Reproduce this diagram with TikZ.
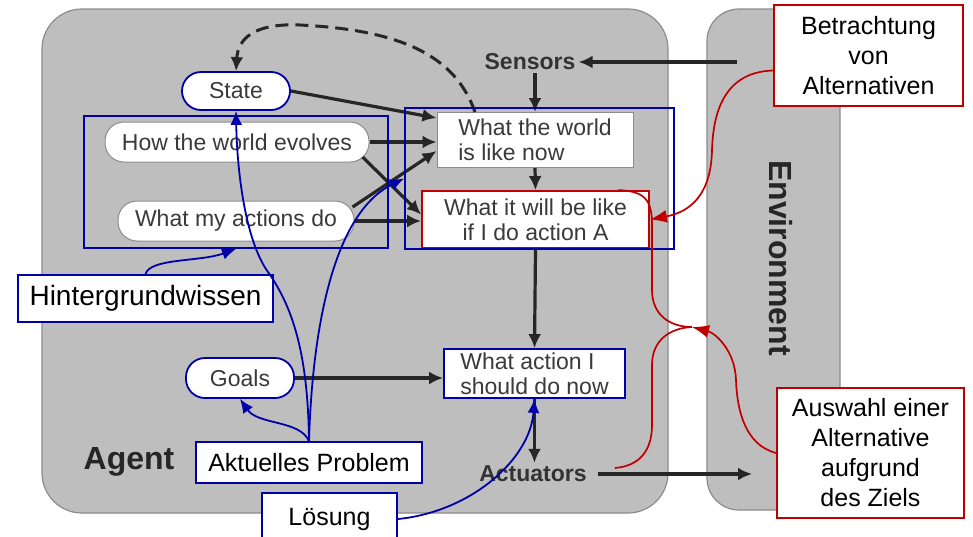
\documentclass[tikz,border=0pt]{standalone}
\usepackage{fontspec}
\setmainfont{Liberation Sans}
\usetikzlibrary{arrows.meta,calc}
\definecolor{panel}{HTML}{BEBEBE}
\definecolor{panelline}{HTML}{8C8C8C}
\definecolor{ink}{HTML}{3A3A3A}
\definecolor{noteblue}{HTML}{0000AA}
\definecolor{notered}{HTML}{C00000}

\begin{document}
\begin{tikzpicture}[x=1pt,y=-1pt,
  panelbox/.style={fill=panel,draw=panelline,line width=1.2pt},
  pill/.style={draw=panelline,fill=white,rounded corners=19pt,line width=1pt,
    font=\fontsize{23}{25}\selectfont,text=ink,inner sep=0pt},
  statebox/.style={draw=panelline,fill=white,line width=1pt,
    font=\fontsize{23}{25}\selectfont,text=ink,inner sep=0pt},
  termlabel/.style={font=\fontsize{23}{26}\selectfont\bfseries,text=black!80,inner sep=3pt},
  flow/.style={draw=black!85,line width=3.2pt,-{Latex[length=14pt,width=13pt]}},
  feedback/.style={draw=black!85,line width=3pt,dash pattern=on 13pt off 7pt,
    -{Latex[length=14pt,width=13pt]}},
  bluenote/.style={draw=noteblue,fill=white,line width=1.8pt,
    font=\fontsize{25}{30}\selectfont,align=center,inner sep=0pt},
  rednote/.style={draw=notered,fill=white,line width=1.8pt,
    font=\fontsize{25}{30}\selectfont,align=center,inner sep=0pt},
  bluelink/.style={draw=noteblue,line width=1.8pt,-{Latex[length=14pt,width=12pt]}},
  redlink/.style={draw=notered,line width=1.7pt},
  redtip/.style={-{Latex[length=17pt,width=13pt]}},
  bluegroup/.style={draw=noteblue,line width=1.8pt,inner sep=0pt},
]
\useasboundingbox (0,0) rectangle (973,536);
\clip (0,0) rectangle (973,536);

% agent and environment panels
\draw[panelbox,rounded corners=40pt] (42,9) rectangle (668,513);
\draw[panelbox,rounded corners=32pt] (707,9) rectangle (840,510);

\node[termlabel] (sensors) at (530,62) {Sensors};
\node[termlabel] (actuators) at (533,474) {Actuators};
\node[termlabel,font=\fontsize{32}{36}\selectfont\bfseries,text=black!85] (agentlbl) at (129,462) {Agent};
\node[termlabel,font=\fontsize{32}{36}\selectfont\bfseries,text=black!85,rotate=-90] (envlbl) at (781,258) {Environment};

% internal model of the agent
\node[pill,draw=noteblue,line width=1.8pt,minimum width=108pt,minimum height=38pt] (state) at (236,91) {State};
\node[pill,minimum width=264pt,minimum height=40pt] (evolve) at (237,142) {How the world evolves};
\node[pill,minimum width=236pt,minimum height=40pt] (effects) at (236,221) {What my actions do};
\node[pill,draw=noteblue,line width=1.8pt,minimum width=108pt,minimum height=40pt] (goals) at (240,378) {Goals};
\node[statebox,align=left,minimum width=196pt,minimum height=55pt] (now) at (535,140) {What the world\\is like now};
\node[statebox,draw=notered,line width=1.8pt,align=center,minimum width=227pt,minimum height=57pt] (future) at (535.5,219.5) {What it will be like\\if I do action A};
\node[statebox,draw=noteblue,line width=1.8pt,align=left,minimum width=181pt,minimum height=49pt] (choice) at (534.5,373.5) {What action I\\should do now};

% percept / action flow
\coordinate (envout) at (737,62);
\coordinate (envin) at (752,474);
\draw[flow] (envout) -- (sensors.east);
\draw[flow] (now.north |- sensors.south) -- (now.north);
\draw[flow] (now.south) -- (future.north);
\draw[flow] (future.south) -- (choice.north);
\draw[flow] (choice.south) -- (choice.south |- actuators.north);
\draw[flow,shorten <=8pt] (actuators.east) -- (envin);
\draw[flow] (state.east) -- ([yshift=22pt]now.west);
\draw[flow] (evolve.east) -- (evolve.east -| now.west);
\draw[flow] ([xshift=-7pt,yshift=-15pt]evolve.east) -- ([yshift=5pt]future.west);
\draw[flow] ([xshift=-2pt,yshift=14pt]effects.east) -- ([yshift=-11pt]now.west);
\draw[flow] (effects.east) -- (effects.east -| future.west);
\draw[flow] (goals.east) -- (goals.east -| choice.west);
\draw[feedback] ([xshift=-60pt]now.north) .. controls (455,55) and (400,30) .. (300,25)
  .. controls (255,23) and (238,38) .. (state.north);

% blue annotations
\node[bluegroup,minimum width=304pt,minimum height=132pt] (knowledge) at (236,182) {};
\node[bluegroup,minimum width=269pt,minimum height=141pt] (outlook) at (539.5,178.5) {};
\node[bluenote,font=\fontsize{28}{32}\selectfont,minimum width=255pt,minimum height=47pt] (hint) at (145.5,298.5) {Hintergrundwissen};
\node[bluenote,minimum width=226pt,minimum height=41pt] (problem) at (309,462.5) {Aktuelles Problem};
\node[bluenote,minimum width=135pt,minimum height=52pt] (solution) at (329.5,519) {Lösung};

\draw[bluelink] (hint.north) .. controls (150,258) and (200,262) .. (knowledge.south);
\draw[bluelink] (problem.north) .. controls (300,420) and (258,425) .. (goals.south);
\draw[bluelink] (problem.north) .. controls (308,360) and (295,310) .. (268,272)
  .. controls (245,240) and (237,170) .. (state.south);
\draw[bluelink] (problem.north) .. controls (312,340) and (330,215) .. (outlook.west);
\draw[bluelink] (solution.east) .. controls (470,512) and (530,460) .. (choice.south);

% red annotations
\node[rednote,minimum width=189pt,minimum height=101pt] (consider) at (868.5,55.5) {Betrachtung\\von\\Alternativen};
\node[rednote,minimum width=187pt,minimum height=130pt] (select) at (870.5,453) {Auswahl einer\\Alternative\\aufgrund\\des Ziels};
\coordinate (merge) at (692,327);

\draw[redlink,redtip] ([yshift=-15pt]consider.west) .. controls (720,72) and (713,120) .. (712,150)
  .. controls (711,195) and (690,212) .. (future.east);
\draw[redlink,redtip] (select.west) .. controls (745,445) and (737,410) .. (736,380)
  .. controls (735,350) and (715,333) .. (merge);
\draw[redlink] ([xshift=-32pt]future.north east) .. controls (645,191) and (652,200) .. (652,225)
  -- (652,290) .. controls (652,315) and (670,327) .. (merge);
\draw[redlink] ([xshift=25pt,yshift=6pt]actuators.east) .. controls (640,466) and (652,450) .. (652,425)
  -- (652,365) .. controls (652,340) and (670,328) .. (merge);
\end{tikzpicture}
\end{document}
